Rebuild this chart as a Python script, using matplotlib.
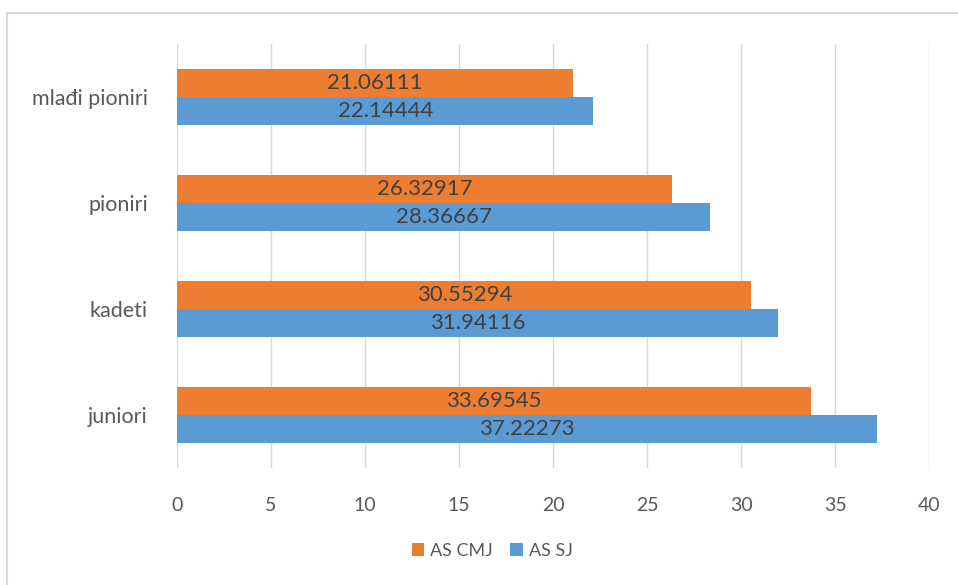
import numpy as np
import matplotlib.pyplot as plt
from matplotlib.patches import Rectangle

# podaci
kategorije = ['juniori', 'kadeti', 'pioniri', 'mlađi pioniri']
as_cmj = [33.69545, 30.55294, 26.32917, 21.06111]
as_sj = [37.22273, 31.94116, 28.36667, 22.14444]
oznake_cmj = ['33.69545', '30.55294', '26.32917', '21.06111']
oznake_sj = ['37.22273', '31.94116', '28.36667', '22.14444']

boja_cmj = '#ED7D31'
boja_sj = '#5B9BD5'

plt.rcParams['font.family'] = ['Lato', 'DejaVu Sans']

fig = plt.figure(figsize=(9.58, 5.85), dpi=100)
ax = fig.add_axes([0.1848, 0.2, 0.785, 0.7248])

# okvir oko slike
fig.patches.append(Rectangle((7 / 958, -0.01), 1.0, (585 - 13) / 585 + 0.01,
                             transform=fig.transFigure, fill=False,
                             edgecolor='#D9D9D9', linewidth=1.5))

y = np.arange(len(kategorije))
h = 0.26
b1 = ax.barh(y + h / 2, as_cmj, height=h, color=boja_cmj, label='AS CMJ', zorder=3)
b2 = ax.barh(y - h / 2, as_sj, height=h, color=boja_sj, label='AS SJ', zorder=3)

ax.bar_label(b1, labels=oznake_cmj, label_type='center', fontsize=16, color='#404040')
ax.bar_label(b2, labels=oznake_sj, label_type='center', fontsize=16, color='#404040')

ax.set_xlim(0, 40)
ax.set_ylim(-0.5, 3.5)
ax.set_xticks(np.arange(0, 41, 5))
ax.set_yticks(y)
ax.set_yticklabels(kategorije)
ax.tick_params(axis='both', length=0, labelsize=14, colors='#595959')
ax.tick_params(axis='y', labelsize=15.5, pad=21)
ax.tick_params(axis='x', pad=21)
ax.grid(axis='x', color='#D9D9D9', linewidth=1, zorder=0)
for s in ax.spines.values():
    s.set_visible(False)

ax.legend(loc='center', bbox_to_anchor=(492 / 958, 34 / 585), bbox_transform=fig.transFigure,
          ncol=2, frameon=False, fontsize=13, handlelength=0.7, handleheight=0.7,
          handletextpad=0.3, columnspacing=1.0, labelcolor='#595959')

fig.savefig('out.png', dpi=100)
